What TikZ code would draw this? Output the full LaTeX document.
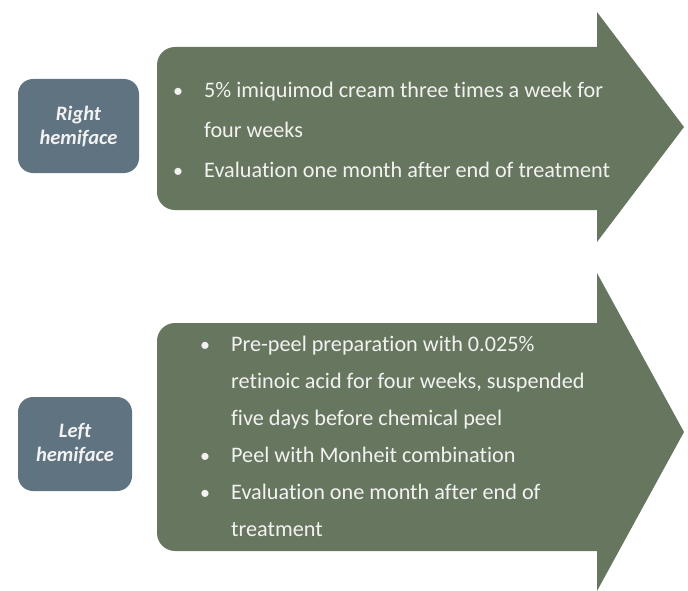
\documentclass[tikz,border=0pt]{standalone}
\usepackage{fontspec}
\setmainfont{Carlito}[Ligatures=NoCommon]
\definecolor{arrowcol}{RGB}{103,119,95}
\definecolor{boxcol}{RGB}{95,115,128}
\definecolor{txtcol}{RGB}{242,242,242}
\tikzset{
  hbox/.style={fill=boxcol, rounded corners=15pt, inner sep=0pt, text=txtcol,
    font=\fontsize{20.5}{24}\selectfont\bfseries\itshape, align=center},
  line/.style={anchor=base west, inner sep=0pt, text=txtcol, font=\fontsize{22.2}{24}\selectfont},
  bul/.style={anchor=base, inner sep=0pt, text=txtcol, font=\fontsize{20}{24}\selectfont},
}
\begin{document}
\begin{tikzpicture}[x=1pt,y=-1pt]
\useasboundingbox (0,0) rectangle (688,591);
% upper arrow
\fill[arrowcol, rounded corners=18pt] (157,47) rectangle (625,210);
\fill[arrowcol] (597,12) -- (684,127) -- (597,242) -- cycle;
% lower arrow
\fill[arrowcol, rounded corners=18pt] (157,323) rectangle (625,551);
\fill[arrowcol] (597,273) -- (684,432) -- (597,591) -- cycle;
% boxes
\node[hbox, minimum width=121pt, minimum height=94pt] (rh) at (78.5,126) {Right\\hemiface};
\node[hbox, minimum width=114pt, minimum height=94pt] (lh) at (75,444) {Left\\hemiface};
% upper text
\node[bul] (b1) at (178,98) {•};
\node[line] (l1) at (204,98) {5\% imiquimod cream three times a week for};
\node[line] (l2) at (204,137.5) {four weeks};
\node[bul] (b2) at (178,177) {•};
\node[line] (l3) at (204,177) {Evaluation one month after end of treatment};
% lower text
\node[bul] (c1) at (205,351) {•};
\node[line] (m1) at (231,351) {Pre-peel preparation with 0.025\%};
\node[line] (m2) at (231,388) {retinoic acid for four weeks, suspended};
\node[line] (m3) at (231,425) {five days before chemical peel};
\node[bul] (c2) at (205,462) {•};
\node[line] (m4) at (231,462) {Peel with Monheit combination};
\node[bul] (c3) at (205,499) {•};
\node[line] (m5) at (231,499) {Evaluation one month after end of};
\node[line] (m6) at (231,536) {treatment};
\end{tikzpicture}
\end{document}
